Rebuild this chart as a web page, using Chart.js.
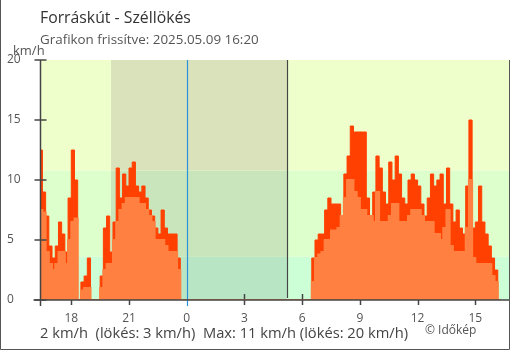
<!DOCTYPE html>
<html>
<head>
<meta charset="UTF-8">
<title>Forráskút - Széllökés</title>
<script src="https://cdn.jsdelivr.net/npm/chart.js@4.4.1/dist/chart.umd.min.js"></script>
<style>
  body { margin: 0; background: #fff; }
  #box { position: relative; width: 510px; height: 350px; font-family: "Open Sans", sans-serif; }
  #box canvas { position: absolute; left: 0; top: 0; }
  .txt { position: absolute; white-space: nowrap; line-height: 1; }
  #title { left: 40px; top: 10px; font-size: 15.8px; color: #333; }
  #sub { left: 40px; top: 33px; font-size: 13.4px; color: #555; }
  #unit { left: 13px; top: 44px; font-size: 13px; color: #555; }
  #foot { left: 40px; top: 325px; font-size: 14.7px; color: #444; }
  #copy { left: 425px; top: 324px; font-size: 12px; color: #555; }
</style>
</head>
<body>
<div id="box">
  <canvas id="windChart" width="510" height="350"></canvas>
  <div class="txt" id="title">Forráskút - Széllökés</div>
  <div class="txt" id="sub">Grafikon frissítve: 2025.05.09 16:20</div>
  <div class="txt" id="unit">km/h</div>
  <div class="txt" id="foot">2 km/h &nbsp;(lökés: 3 km/h) &nbsp;Max: 11 km/h (lökés: 20 km/h)</div>
  <div class="txt" id="copy">© Időkép</div>
</div>
<script>
// hours relative to midnight; one reading every 10 minutes from 16:20 the day before
const startHour = -(7 + 40 / 60);
const stepHours = 10 / 60;
const sunset = -(3 + 56 / 60);   // 20:04
const sunrise = 5 + 12 / 60;     // 05:12

// gusts (km/h)
const gust = [
  13, 12.5, 9, 7, 4.5, 3.5, 4.5, 6.5, 5.5, 4,
  8.5, 12.5, 10, 0, 1.5, 2, 3.5, 0, 0, 0,
  2, 6, 7, 4, 6.5, 11, 8.5, 10.5, 9.5, 11,
  11.5, 9.5, 9, 9.5, 8.5, 7.5, 7, 6, 5.5, 7.5,
  6, 5.5, 5.5, 5.5, 3.5, 0,
  0, 0, 0, 0, 0, 0, 0, 0, 0, 0,
  0, 0, 0, 0, 0, 0, 0, 0, 0, 0,
  0, 0, 0, 0, 0, 0, 0, 0, 0, 0,
  0, 0, 0, 0, 0, 0, 0, 0, 0, 0,
  3.5, 5, 5.5, 5.5, 7.5, 8.5, 8, 8, 8, 7,
  10.5, 12, 14.5, 14, 14, 14, 14, 8.5, 7, 9,
  12, 11, 9, 8, 11.5, 10, 12, 10.5, 8.5, 8,
  10, 10.5, 10, 9.5, 8, 7, 8.5, 10.5, 9.5, 10,
  10.5, 8, 11, 8, 6.5, 7.5, 6, 5.5, 9.5, 15,
  6, 6.5, 9.5, 6.5, 5.5, 4.5, 3.5, 2.5
];

// average wind (km/h)
const avg = [
  9, 7.5, 7.3, 4, 3, 2.5, 3, 4, 4, 3,
  5, 6.5, 6.8, 0, 0.8, 1, 1, 0, 0, 0,
  1, 2.5, 3, 3, 5, 6.5, 7.5, 8, 8.5, 8.5,
  8.5, 8.5, 8, 8, 7.5, 7, 6.5, 5, 5, 5,
  4.5, 4, 4, 4, 2.5, 0,
  0, 0, 0, 0, 0, 0, 0, 0, 0, 0,
  0, 0, 0, 0, 0, 0, 0, 0, 0, 0,
  0, 0, 0, 0, 0, 0, 0, 0, 0, 0,
  0, 0, 0, 0, 0, 0, 0, 0, 0, 0,
  1.5, 3.5, 3.8, 4, 5, 5, 5.8, 5.8, 6, 7,
  8.5, 10, 10, 9, 8.5, 7.5, 7.5, 7, 7, 6.5,
  9, 6.5, 6.5, 6.5, 7, 8, 8, 6.5, 6.5, 6.5,
  7, 7.5, 7.5, 7.5, 7, 6.5, 6.5, 6.5, 5.5, 5.5,
  5, 6, 7.5, 4.5, 4, 4, 4, 4, 6, 10,
  3.5, 3, 3, 3, 3, 3, 2, 1.5
];

// background bands (km/h): 1 m/s and 3 m/s
const bandEdges = [0, 3.6, 10.8, 20];
const dayColors = ['#ccffd6', '#ddffcc', '#eeffcc'];
const nightColors = ['#b8e5c4', '#c8e5bb', '#d9e2bb'];

function toPoints(values) {
  const pts = values.map((v, i) => ({ x: startHour + i * stepHours, y: v }));
  pts.push({ x: startHour + values.length * stepHours, y: 0 });
  return pts;
}

const backdrop = {
  id: 'backdrop',
  beforeDraw(chart) {
    const { ctx, chartArea: a, scales: { x, y } } = chart;
    ctx.save();
    const n0 = Math.max(x.getPixelForValue(sunset), a.left);
    const n1 = x.getPixelForValue(sunrise);
    for (let i = 0; i < dayColors.length; i++) {
      const top = y.getPixelForValue(bandEdges[i + 1]);
      const bot = y.getPixelForValue(bandEdges[i]);
      ctx.fillStyle = dayColors[i];
      ctx.fillRect(a.left, top, a.right - a.left, bot - top);
      ctx.fillStyle = nightColors[i];
      ctx.fillRect(n0, top, n1 - n0, bot - top);
    }
    ctx.restore();
  },
  beforeDatasetsDraw(chart) {
    const { ctx, chartArea: a, scales: { x } } = chart;
    ctx.save();
    ctx.strokeStyle = '#444';
    ctx.lineWidth = 1.5;
    x.ticks.forEach(t => {
      if (t.value === 0) return;
      const px = Math.round(x.getPixelForValue(t.value)) + 0.5;
      ctx.beginPath();
      ctx.moveTo(px, a.bottom - 6);
      ctx.lineTo(px, a.bottom + 5);
      ctx.stroke();
    });
    ctx.restore();
  },
  afterDatasetsDraw(chart) {
    const { ctx, chartArea: a, scales: { x, y } } = chart;
    ctx.save();
    // sunrise line
    ctx.strokeStyle = '#444';
    ctx.lineWidth = 1.2;
    let px = Math.round(x.getPixelForValue(sunrise)) + 0.5;
    ctx.beginPath(); ctx.moveTo(px, a.top); ctx.lineTo(px, a.bottom - 2); ctx.stroke();
    // midnight line
    ctx.strokeStyle = '#2b93de';
    px = Math.round(x.getPixelForValue(0)) + 0.5;
    ctx.beginPath(); ctx.moveTo(px, a.top); ctx.lineTo(px, a.bottom + 6); ctx.stroke();
    // axes
    ctx.strokeStyle = '#444';
    ctx.lineWidth = 1.5;
    ctx.beginPath();
    ctx.moveTo(a.left - 7, a.bottom); ctx.lineTo(a.right, a.bottom);
    ctx.moveTo(a.left, a.top); ctx.lineTo(a.left, a.bottom + 6);
    ctx.stroke();
    y.ticks.forEach(t => {
      const py = Math.round(y.getPixelForValue(t.value));
      ctx.beginPath();
      ctx.moveTo(a.left - 6, py); ctx.lineTo(a.left + 6, py);
      ctx.stroke();
    });
    // frame
    ctx.lineWidth = 1;
    ctx.strokeStyle = '#555';
    ctx.beginPath();
    ctx.moveTo(0.5, 0); ctx.lineTo(0.5, chart.height - 0.5);
    ctx.lineTo(chart.width - 0.5, chart.height - 0.5);
    ctx.lineTo(chart.width - 0.5, a.top);
    ctx.stroke();
    ctx.restore();
  }
};

const ctx = document.getElementById('windChart').getContext('2d');
new Chart(ctx, {
  type: 'line',
  data: {
    datasets: [
      {
        label: 'Átlagszél',
        data: toPoints(avg),
        stepped: 'after',
        fill: 'origin',
        backgroundColor: '#ff8040',
        borderColor: '#ff8040',
        borderWidth: 2,
        pointRadius: 0,
        order: 1
      },
      {
        label: 'Széllökés',
        data: toPoints(gust),
        stepped: 'after',
        fill: 'origin',
        backgroundColor: '#ff4000',
        borderColor: '#ff4000',
        borderWidth: 1,
        pointRadius: 0,
        order: 2
      }
    ]
  },
  options: {
    responsive: false,
    animation: false,
    layout: { padding: { top: 60, left: 7, right: 1, bottom: 0 } },
    plugins: { legend: { display: false }, tooltip: { enabled: false } },
    scales: {
      x: {
        type: 'linear',
        min: -7.6,
        max: 16.75,
        grid: { display: false, drawTicks: false },
        border: { display: false },
        afterFit: s => { s.height = 50; },
        ticks: {
          stepSize: 3,
          includeBounds: false,
          padding: 11,
          color: '#555',
          font: { family: 'Open Sans', size: 12 },
          callback: v => String(((v % 24) + 24) % 24)
        }
      },
      y: {
        min: 0,
        max: 20,
        grid: { display: false, drawTicks: false },
        border: { display: false },
        afterFit: s => { s.width = 33.5; },
        ticks: {
          stepSize: 5,
          crossAlign: 'far',
          color: '#555',
          font: { family: 'Open Sans', size: 12 }
        }
      }
    }
  },
  plugins: [backdrop]
});
</script>
</body>
</html>
